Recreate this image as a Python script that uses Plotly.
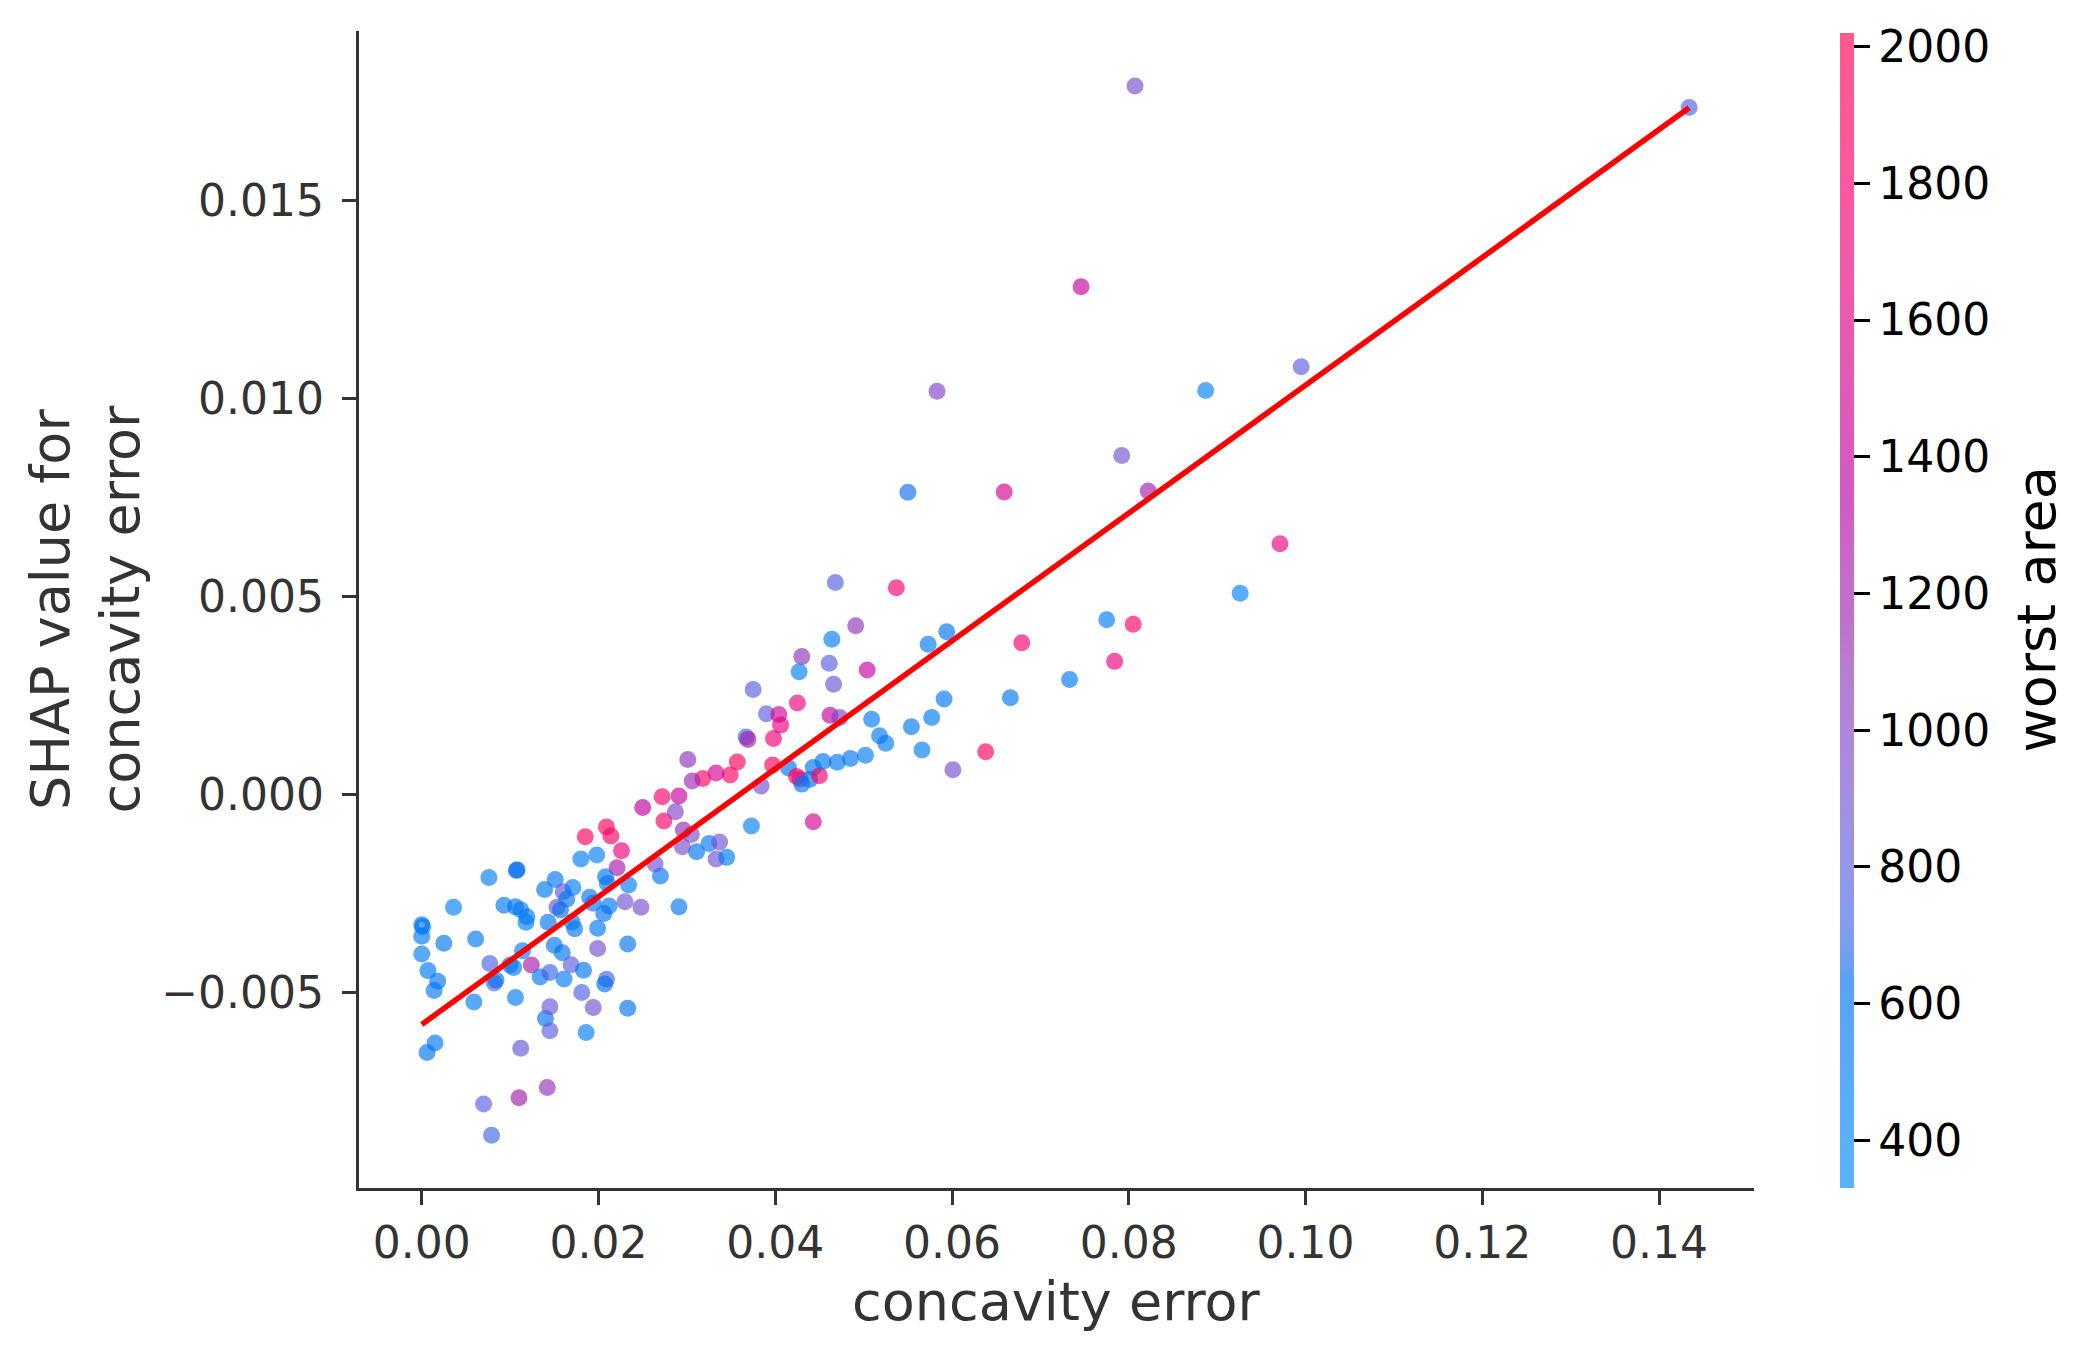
import math
import plotly.graph_objects as go

# ---------------- data ----------------
concavity_error = [
    0.0000, 0.0001, 0.0000, 0.0000, 0.0007, 0.0018, 0.0014, 0.0015, 0.0006, 0.0025,
    0.0036, 0.0061, 0.0076, 0.0059, 0.0077, 0.0082, 0.0084, 0.0070, 0.0079, 0.0093,
    0.0107, 0.0108, 0.0106, 0.0112, 0.0119, 0.0118, 0.0100, 0.0104, 0.0114, 0.0106,
    0.0112, 0.0124, 0.0110, 0.0142, 0.0139, 0.0151, 0.0143, 0.0150, 0.0159, 0.0134,
    0.0145, 0.0161, 0.0140, 0.0145, 0.0145, 0.0160, 0.0171, 0.0164, 0.0153, 0.0157,
    0.0170, 0.0173, 0.0169, 0.0183, 0.0181, 0.0186, 0.0194, 0.0180, 0.0198, 0.0185,
    0.0209, 0.0214, 0.0226, 0.0221, 0.0208, 0.0210, 0.0190, 0.0194, 0.0212, 0.0206,
    0.0199, 0.0199, 0.0234, 0.0230, 0.0248, 0.0233, 0.0209, 0.0207, 0.0233, 0.0270,
    0.0264, 0.0291, 0.0250, 0.0274, 0.0272, 0.0287,
    0.0430, 0.0461, 0.0427, 0.0504, 0.0466, 0.0375, 0.0425, 0.0390, 0.0404, 0.0406,
    0.0462, 0.0473, 0.0509, 0.0367, 0.0369, 0.0398, 0.0518, 0.0525, 0.0301, 0.0357,
    0.0333, 0.0349, 0.0318, 0.0306, 0.0397, 0.0415, 0.0424, 0.0428, 0.0430, 0.0439,
    0.0443, 0.0450, 0.0454, 0.0470, 0.0485, 0.0502, 0.0384, 0.0291, 0.0296, 0.0305,
    0.0295, 0.0311, 0.0325, 0.0337, 0.0333, 0.0345, 0.0373, 0.0443,
    0.0537, 0.0491, 0.0573, 0.0594, 0.0554, 0.0577, 0.0591, 0.0566, 0.0601, 0.0638,
    0.0666, 0.0679, 0.0733, 0.0775, 0.0805, 0.0784, 0.0926,
    0.0468, 0.0464,
    0.0807, 0.0746, 0.0583, 0.0887, 0.0995, 0.0792, 0.0550, 0.0659, 0.0822, 0.0971,
    0.1434,
]

shap_value = [
    -0.00328, -0.00333, -0.00357, -0.00402, -0.00444, -0.00471, -0.00494, -0.00627, -0.00651, -0.00375,
    -0.00284, -0.00364, -0.00209, -0.00523, -0.00426, -0.00475, -0.00468, -0.00781, -0.00860, -0.00279,
    -0.00191, -0.00189, -0.00283, -0.00290, -0.00308, -0.00322, -0.00430, -0.00436, -0.00394, -0.00512,
    -0.00640, -0.00430, -0.00765, -0.00739, -0.00239, -0.00214, -0.00322, -0.00380, -0.00399, -0.00460,
    -0.00449, -0.00465, -0.00565, -0.00535, -0.00596, -0.00245, -0.00234, -0.00264, -0.00284, -0.00291,
    -0.00321, -0.00338, -0.00429, -0.00443, -0.00499, -0.00600, -0.00537, -0.00162, -0.00152, -0.00106,
    -0.00081, -0.00104, -0.00141, -0.00184, -0.00207, -0.00224, -0.00259, -0.00274, -0.00281, -0.00300,
    -0.00337, -0.00388, -0.00228, -0.00270, -0.00284, -0.00377, -0.00466, -0.00478, -0.00539, -0.00205,
    -0.00175, -0.00283, -0.00032, -0.00066, -0.00005, -0.00043,
    0.00349, 0.00332, 0.00311, 0.00315, 0.00279, 0.00266, 0.00232, 0.00205, 0.00203, 0.00176,
    0.00201, 0.00195, 0.00191, 0.00146, 0.00140, 0.00142, 0.00149, 0.00130, 0.00089, 0.00083,
    0.00055, 0.00050, 0.00041, 0.00035, 0.00075, 0.00068, 0.00046, 0.00040, 0.00027, 0.00039,
    0.00069, 0.00048, 0.00084, 0.00082, 0.00092, 0.00100, 0.00022, -0.00003, -0.00089, -0.00100,
    -0.00131, -0.00144, -0.00123, -0.00119, -0.00162, -0.00158, -0.00079, -0.00068,
    0.00523, 0.00427, 0.00380, 0.00412, 0.00172, 0.00195, 0.00242, 0.00113, 0.00063, 0.00109,
    0.00245, 0.00384, 0.00291, 0.00442, 0.00431, 0.00337, 0.00509,
    0.00536, 0.00393,
    0.01790, 0.01283, 0.01019, 0.01021, 0.01081, 0.00857, 0.00764, 0.00765, 0.00767, 0.00634,
    0.01736,
]

worst_area = [
    560, 600, 520, 500, 560, 560, 540, 560, 600, 560,
    460, 560, 480, 480, 750, 800, 620, 800, 720, 540,
    620, 640, 560, 520, 560, 500, 560, 520, 540, 520,
    850, 1250, 1200, 1100, 560, 540, 560, 580, 560, 540,
    720, 520, 600, 850, 800, 850, 520, 560, 880, 600,
    560, 580, 820, 560, 760, 480, 900, 520, 480, 1900,
    1950, 1850, 1750, 1250, 580, 600, 560, 560, 560, 600,
    560, 920, 540, 900, 950, 560, 720, 640, 620, 560,
    900, 560, 1350, 1850, 1800, 1000,
    1100, 780, 500, 1400, 850, 780, 1700, 800, 1450, 1650,
    1400, 1000, 520, 700, 1250, 1750, 540, 520, 1100, 1900,
    1500, 1850, 1850, 1150, 1900, 600, 1900, 1800, 540, 560,
    580, 1850, 560, 560, 560, 500, 920, 1400, 1150, 950,
    950, 560, 520, 900, 900, 540, 500, 1500,
    1800, 1100, 540, 580, 560, 540, 560, 480, 950, 1900,
    560, 1800, 540, 480, 1900, 1700, 450,
    780, 500,
    950, 1400, 1000, 450, 800, 900, 650, 1500, 1200, 1700,
    750,
]

trend_x = [0.0, 0.1434]
trend_y = [-0.0058, 0.01735]

x_ticks = [0.00, 0.02, 0.04, 0.06, 0.08, 0.10, 0.12, 0.14]
x_tick_labels = ["0.00", "0.02", "0.04", "0.06", "0.08", "0.10", "0.12", "0.14"]
y_ticks = [-0.005, 0.0, 0.005, 0.010, 0.015]
y_tick_labels = ["\u22120.005", "0.000", "0.005", "0.010", "0.015"]
cbar_ticks = [400, 600, 800, 1000, 1200, 1400, 1600, 1800, 2000]
cbar_tick_labels = ["400", "600", "800", "1000", "1200", "1400", "1600", "1800", "2000"]
color_min, color_max = 330, 2020

x_label = "concavity error"
y_label = "SHAP value for<br>concavity error"
color_label = "worst area"

# ---------------- shap red_blue colormap ----------------
def lch_to_rgb(l, c, h):
    a = c * math.cos(h)
    b = c * math.sin(h)
    fy = (l + 16.0) / 116.0
    fx = fy + a / 500.0
    fz = fy - b / 200.0

    def finv(t):
        return t ** 3 if t > 0.2068966 else (t - 16.0 / 116.0) / 7.787

    X = 0.95047 * finv(fx)
    Y = 1.0 * finv(fy)
    Z = 1.08883 * finv(fz)
    r = 3.24048134 * X - 1.53715152 * Y - 0.49853633 * Z
    g = -0.96925495 * X + 1.87599 * Y + 0.04155593 * Z
    bb = 0.05564664 * X - 0.20404134 * Y + 1.05731107 * Z

    def gam(v):
        v = 1.055 * v ** (1 / 2.4) - 0.055 if v > 0.0031308 else 12.92 * v
        return min(max(v, 0.0), 1.0)

    return gam(r), gam(g), gam(bb)


nsteps = 100
blue_lch = (54.0, 70.0, 4.6588)
red_lch = (54.0, 90.0, 0.35470565 + 2 * math.pi)
l_mid = 40.0
half = nsteps // 2
l_vals = [blue_lch[0] + (l_mid - blue_lch[0]) * i / (half - 1) for i in range(half)] + \
         [l_mid + (red_lch[0] - l_mid) * i / (half - 1) for i in range(half)]
c_vals = [blue_lch[1] + (red_lch[1] - blue_lch[1]) * i / (nsteps - 1) for i in range(nsteps)]
h_vals = [blue_lch[2] + (red_lch[2] - blue_lch[2]) * i / (nsteps - 1) for i in range(nsteps)]

alpha = 0.65
scale_solid = []
scale_faded = []
for i in range(nsteps):
    pos = i / (nsteps - 1)
    r, g, b = lch_to_rgb(l_vals[i], c_vals[i], h_vals[i])
    scale_solid.append([pos, "rgb(%d,%d,%d)" % (round(r * 255), round(g * 255), round(b * 255))])
    rf, gf, bf = [alpha * v + (1 - alpha) for v in (r, g, b)]
    scale_faded.append([pos, "rgb(%d,%d,%d)" % (round(rf * 255), round(gf * 255), round(bf * 255))])

# ---------------- figure ----------------
L, R, T, B = 359, 344, 31, 173
W, H = 2098, 1361
pw, ph = W - L - R, H - T - B

fig = go.Figure()

fig.add_trace(go.Scatter(
    x=concavity_error, y=shap_value, mode="markers",
    marker=dict(size=17, color=worst_area, colorscale=scale_solid,
                cmin=color_min, cmax=color_max, opacity=alpha,
                line=dict(width=0), showscale=False),
    hoverinfo="skip", showlegend=False,
))

fig.add_trace(go.Scatter(
    x=trend_x, y=trend_y, mode="lines",
    line=dict(color="#ff0000", width=5.5),
    hoverinfo="skip", showlegend=False,
))

# colorbar carrier (invisible marker)
fig.add_trace(go.Scatter(
    x=[concavity_error[0]], y=[shap_value[0]], mode="markers",
    marker=dict(size=0, color=[worst_area[0]], colorscale=scale_faded,
                cmin=color_min, cmax=color_max, showscale=True,
                colorbar=dict(
                    x=(1840 - L) / pw, xanchor="left", xpad=0,
                    y=(T + ph - (33 + 1188) / 2) / ph, yanchor="middle", ypad=0,
                    thickness=14, thicknessmode="pixels",
                    len=1155, lenmode="pixels",
                    outlinewidth=0,
                    tickvals=cbar_ticks, ticktext=cbar_tick_labels,
                    ticks="outside", ticklen=16, tickwidth=3, tickcolor="#000000",
                    tickfont=dict(family="DejaVu Sans", size=44, color="#000000"),
                )),
    hoverinfo="skip", showlegend=False,
))

fig.update_xaxes(
    range=[-0.0071, 0.15074], showgrid=False, zeroline=False,
    showline=True, linecolor="#333333", linewidth=3.3, mirror=False,
    ticks="outside", ticklen=14, tickwidth=3, tickcolor="#333333",
    tickvals=x_ticks, ticktext=x_tick_labels,
    tickfont=dict(family="DejaVu Sans", size=44, color="#333333"),
    ticklabelstandoff=0,
)
fig.update_yaxes(
    range=[-0.00993, 0.01929], showgrid=False, zeroline=False,
    showline=True, linecolor="#333333", linewidth=3.3, mirror=False,
    ticks="outside", ticklen=14, tickwidth=3, tickcolor="#333333",
    tickvals=y_ticks, ticktext=y_tick_labels,
    tickfont=dict(family="DejaVu Sans", size=44, color="#333333"),
    ticklabelstandoff=9,
)

fig.add_annotation(text=x_label, xref="paper", yref="paper", x=0.5, y=0,
                   xanchor="center", yanchor="middle", yshift=-113, showarrow=False,
                   font=dict(family="DejaVu Sans", size=54, color="#333333"))
fig.add_annotation(text=y_label, xref="paper", yref="paper", x=0, y=0.5,
                   xanchor="center", yanchor="middle", xshift=-(L - 85), showarrow=False,
                   textangle=-90,
                   font=dict(family="DejaVu Sans", size=54, color="#333333"))
fig.add_annotation(text=color_label, xref="paper", yref="paper", x=(2036 - L) / pw, y=0.5,
                   xanchor="center", yanchor="middle", showarrow=False, textangle=-90,
                   font=dict(family="DejaVu Sans", size=54, color="#000000"))

fig.update_layout(
    width=W, height=H, margin=dict(l=L, r=R, t=T, b=B, autoexpand=False),
    plot_bgcolor="white", paper_bgcolor="white",
    font=dict(family="DejaVu Sans", color="#333333"),
    showlegend=False,
)

fig.write_html("out.html")
